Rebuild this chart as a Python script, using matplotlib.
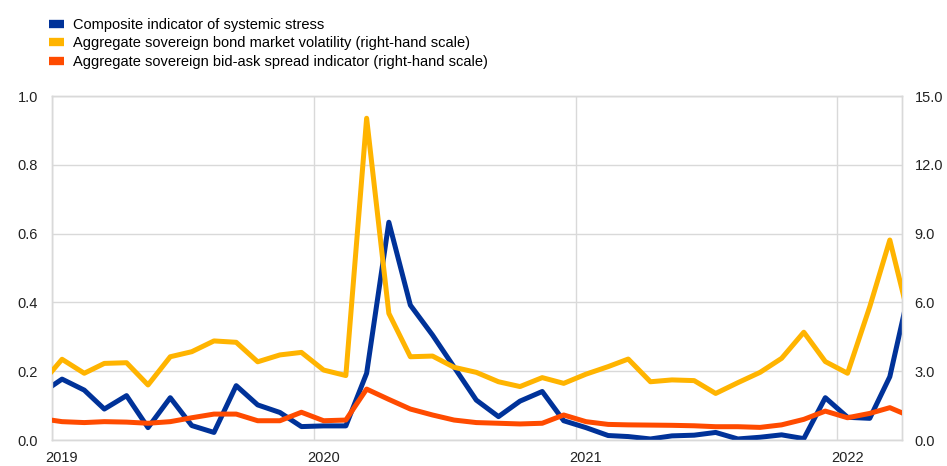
import matplotlib
matplotlib.use("Agg")
import matplotlib.pyplot as plt
from matplotlib.lines import Line2D
import pandas as pd

plt.rcParams['font.family'] = ['Liberation Sans', 'DejaVu Sans']
plt.rcParams['font.size'] = 10.5

# monthly observations, Dec 2018 - Apr 2022 (plotted mid-month)
dates = pd.date_range('2018-12-01', '2022-04-01', freq='MS') + pd.Timedelta(days=14)

ciss = [0.133, 0.177, 0.145, 0.090, 0.129, 0.036, 0.123, 0.042, 0.022, 0.158, 0.102, 0.080, 0.039,
        0.041, 0.041, 0.194, 0.633, 0.392, 0.305, 0.212, 0.116, 0.068, 0.113, 0.141, 0.056,
        0.036, 0.013, 0.010, 0.003, 0.012, 0.014, 0.022, 0.003, 0.008, 0.015, 0.004, 0.123,
        0.066, 0.063, 0.184, 0.47]
volatility = [2.38, 3.52, 2.91, 3.34, 3.37, 2.40, 3.63, 3.85, 4.32, 4.26, 3.41, 3.71, 3.82,
              3.05, 2.81, 14.03, 5.52, 3.63, 3.66, 3.17, 2.95, 2.54, 2.33, 2.72, 2.47,
              2.87, 3.20, 3.53, 2.54, 2.62, 2.59, 2.03, 2.50, 2.95, 3.56, 4.70, 3.42,
              2.91, 5.81, 8.72, 4.8]
bid_ask = [0.94, 0.80, 0.76, 0.80, 0.78, 0.73, 0.80, 0.97, 1.13, 1.13, 0.84, 0.84, 1.21,
           0.84, 0.87, 2.22, 1.77, 1.35, 1.09, 0.87, 0.76, 0.73, 0.70, 0.73, 1.09,
           0.80, 0.68, 0.66, 0.65, 0.64, 0.62, 0.58, 0.58, 0.55, 0.66, 0.90, 1.26,
           0.97, 1.16, 1.41, 1.0]

labels = ["Composite indicator of systemic stress",
          "Aggregate sovereign bond market volatility (right-hand scale)",
          "Aggregate sovereign bid-ask spread indicator (right-hand scale)"]
colors = ["#003299", "#FFB400", "#FF4B00"]
left_ticks = [0.0, 0.2, 0.4, 0.6, 0.8, 1.0]
right_ticks = [0.0, 3.0, 6.0, 9.0, 12.0, 15.0]
years = [2019, 2020, 2021, 2022]

fig = plt.figure(figsize=(9.47, 4.66), dpi=100)
ax = fig.add_axes([52 / 947, 1 - 440 / 466, 850 / 947, 344 / 466])
ax2 = ax.twinx()

lw = 3.6
ax.plot(dates, ciss, color=colors[0], lw=lw, zorder=3)
ax2.plot(dates, volatility, color=colors[1], lw=lw, zorder=3)
ax2.plot(dates, bid_ask, color=colors[2], lw=lw, zorder=3)

ax.set_xlim(pd.Timestamp('2019-01-01'), pd.Timestamp('2022-04-01'))
ax.set_ylim(0, 1.0)
ax2.set_ylim(0, 15.0)

ax.set_yticks(left_ticks)
ax.set_yticklabels([f"{v:.1f}" for v in left_ticks])
ax2.set_yticks(right_ticks)
ax2.set_yticklabels([f"{v:.1f}" for v in right_ticks])

# gridlines at year starts, labels near mid-January
year_starts = [pd.Timestamp(f"{y}-01-01") for y in years]
ax.set_xticks(year_starts)
ax.set_xticklabels([""] * len(years))
ax.set_xticks([pd.Timestamp(f"{y}-01-15") for y in years], minor=True)
ax.set_xticklabels([str(y) for y in years], minor=True)

grid_c = "#d9d9d9"
ax.grid(True, which='major', color=grid_c, lw=1.0, zorder=0)
ax.set_axisbelow(True)
for a in (ax, ax2):
    for s in a.spines.values():
        s.set_color(grid_c)
        s.set_linewidth(1.0)
    a.tick_params(which='both', length=0, labelsize=10.5, colors='#222222')
ax.tick_params(axis='y', pad=10)
ax2.tick_params(axis='y', pad=9)
ax.tick_params(axis='x', which='minor', pad=8)

handles = [Line2D([0], [0], color=c, lw=6, solid_capstyle='butt') for c in colors]
fig.legend(handles, labels, loc='upper left', bbox_to_anchor=(49 / 947, 1 - 18 / 466),
           frameon=False, handlelength=1.0, handletextpad=0.65, labelspacing=0.3,
           fontsize=10.5, borderaxespad=0, borderpad=0)

fig.savefig("out.png", dpi=100)
